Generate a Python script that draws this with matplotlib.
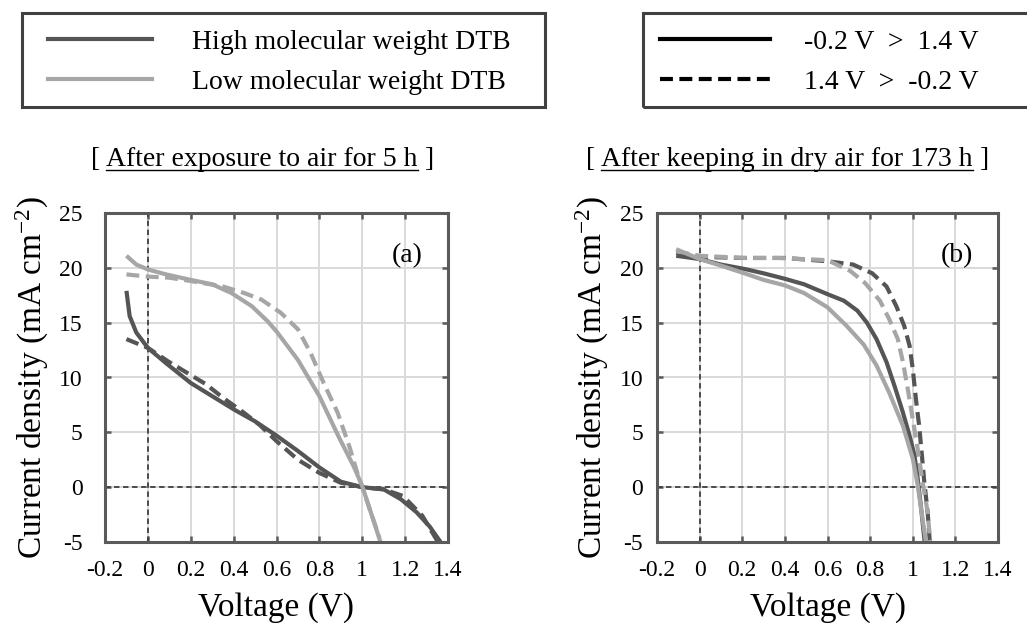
import matplotlib
matplotlib.use("Agg")
import matplotlib.pyplot as plt
from matplotlib.lines import Line2D
from matplotlib.patches import Rectangle

plt.rcParams['font.family'] = ['Liberation Serif', 'DejaVu Serif']
plt.rcParams['mathtext.default'] = 'regular'
plt.rcParams['axes.unicode_minus'] = False

# ---------------- data ----------------
# Panel (a): after exposure to air for 5 h
Va_high_fwd = [-0.1, -0.085, -0.054, 0.0, 0.085, 0.2, 0.3, 0.4, 0.5, 0.6, 0.7, 0.8, 0.9, 1.0, 1.1, 1.18, 1.254, 1.315, 1.365]
Ja_high_fwd = [17.9, 15.6, 14.1, 12.7, 11.3, 9.5, 8.3, 7.1, 6.0, 4.7, 3.3, 1.8, 0.5, 0.0, -0.2, -1.1, -2.3, -3.6, -5.0]
Va_high_rev = [-0.1, 0.0, 0.092, 0.185, 0.27, 0.354, 0.44, 0.52, 0.6, 0.7, 0.8, 0.9, 1.0, 1.1, 1.19, 1.28, 1.35]
Ja_high_rev = [13.5, 12.7, 11.5, 10.4, 9.4, 8.1, 6.9, 5.7, 4.2, 2.5, 1.3, 0.4, 0.0, -0.2, -0.8, -2.6, -4.9]
Va_low_fwd = [-0.1, -0.054, 0.0, 0.085, 0.2, 0.3, 0.39, 0.485, 0.56, 0.6, 0.7, 0.8, 0.89, 0.96, 1.0, 1.04, 1.085]
Ja_low_fwd = [21.1, 20.3, 19.85, 19.4, 18.9, 18.5, 17.7, 16.5, 15.1, 14.2, 11.6, 8.3, 4.6, 1.9, 0.1, -2.3, -5.0]
Va_low_rev = [-0.1, 0.0, 0.1, 0.2, 0.35, 0.45, 0.53, 0.62, 0.7, 0.76, 0.82, 0.885, 0.94, 0.977, 1.0, 1.04, 1.08]
Ja_low_rev = [19.4, 19.2, 19.1, 18.8, 18.3, 17.7, 17.1, 15.9, 14.4, 12.2, 9.5, 6.8, 3.7, 1.3, 0.0, -2.3, -4.6]

# Panel (b): after keeping in dry air for 173 h
Vb_high_fwd = [-0.11, 0.0, 0.1, 0.21, 0.3, 0.4, 0.49, 0.6, 0.677, 0.74, 0.785, 0.83, 0.877, 0.915, 0.954, 0.985, 1.008, 1.023, 1.038, 1.056]
Jb_high_fwd = [21.1, 20.8, 20.3, 19.9, 19.5, 19.0, 18.5, 17.6, 17.0, 16.1, 15.0, 13.5, 11.4, 9.2, 6.8, 4.7, 2.9, 0.8, -1.7, -5.0]
Vb_high_rev = [-0.11, 0.0, 0.2, 0.4, 0.6, 0.72, 0.81, 0.877, 0.923, 0.96, 0.985, 1.0, 1.015, 1.03, 1.043, 1.054, 1.07, 1.08]
Jb_high_rev = [21.4, 21.0, 20.9, 20.9, 20.6, 20.3, 19.5, 18.3, 16.5, 14.7, 12.9, 10.8, 8.0, 5.6, 2.9, 0.5, -2.3, -5.0]
Vb_low_fwd = [-0.11, 0.0, 0.1, 0.21, 0.3, 0.4, 0.49, 0.6, 0.69, 0.77, 0.83, 0.89, 0.954, 1.0, 1.023, 1.046, 1.062]
Jb_low_fwd = [21.7, 20.8, 20.2, 19.5, 18.9, 18.4, 17.7, 16.4, 14.7, 13.0, 11.1, 8.6, 5.6, 2.6, 0.2, -2.9, -5.0]
Vb_low_rev = [-0.11, 0.0, 0.21, 0.37, 0.6, 0.708, 0.777, 0.846, 0.89, 0.93, 0.954, 0.977, 1.0, 1.023, 1.046, 1.07, 1.082]
Jb_low_rev = [21.5, 21.1, 20.9, 20.9, 20.7, 19.7, 18.6, 17.0, 15.3, 13.5, 11.4, 8.9, 6.2, 3.5, 0.5, -2.3, -5.0]

x_ticks = [-0.2, 0, 0.2, 0.4, 0.6, 0.8, 1, 1.2, 1.4]
x_ticklabels = ['-0.2', '0', '0.2', '0.4', '0.6', '0.8', '1', '1.2', '1.4']
y_ticks = [-5, 0, 5, 10, 15, 20, 25]
y_ticklabels = ['-5', '0', '5', '10', '15', '20', '25']

series_labels = ['High molecular weight DTB', 'Low molecular weight DTB']
sweep_labels = ['-0.2 V  >  1.4 V', '1.4 V  >  -0.2 V']
titles = ['After exposure to air for 5 h', 'After keeping in dry air for 173 h']
panel_tags = ['(a)', '(b)']

# ---------------- style ----------------
DARK = '#555555'
LIGHT = '#a6a6a6'
FRAME = '#5a5a5a'
GRID = '#d9d9d9'
LW = 3.0
DASH = (3.1, 1.55)

W, H = 1027, 623
fig = plt.figure(figsize=(W / 100, H / 100), dpi=100)
ax_a = fig.add_axes([105 / W, 1 - 542 / H, 343 / W, 329 / H])
ax_b = fig.add_axes([657 / W, 1 - 542 / H, 341 / W, 329 / H])

panels = [
    (ax_a, (Va_high_rev, Ja_high_rev), (Va_low_rev, Ja_low_rev), (Va_high_fwd, Ja_high_fwd), (Va_low_fwd, Ja_low_fwd), 16),
    (ax_b, (Vb_high_rev, Jb_high_rev), (Vb_low_rev, Jb_low_rev), (Vb_high_fwd, Jb_high_fwd), (Vb_low_fwd, Jb_low_fwd), 10),
]

for i, (ax, hr, lr, hf, lf, ypad) in enumerate(panels):
    ax.set_xlim(-0.2, 1.4)
    ax.set_ylim(-5, 25)
    ax.set_xticks(x_ticks)
    ax.set_xticklabels(x_ticklabels)
    ax.set_yticks(y_ticks)
    ax.set_yticklabels(y_ticklabels)
    ax.grid(True, color=GRID, lw=1.4, zorder=0)
    ax.set_axisbelow(True)
    ax.axhline(0, color='#404040', lw=1.3, ls=(0, (3, 2)), zorder=1)
    ax.axvline(0, color='#404040', lw=1.3, ls=(0, (3, 2)), zorder=1)
    ax.plot(*hr, color=DARK, lw=LW, ls=(0, DASH), zorder=2)
    ax.plot(*lr, color=LIGHT, lw=LW, ls=(0, DASH), zorder=2)
    ax.plot(*hf, color=DARK, lw=LW, zorder=3, solid_capstyle='butt', solid_joinstyle='round')
    ax.plot(*lf, color=LIGHT, lw=LW, zorder=4, solid_capstyle='butt', solid_joinstyle='round')
    for s in ax.spines.values():
        s.set_color(FRAME)
        s.set_linewidth(2.2)
        s.set_zorder(5)
    ax.tick_params(direction='in', top=True, right=True, length=4, width=1.8,
                   color=FRAME, labelsize=17)
    ax.tick_params(axis='x', pad=13)
    ax.tick_params(axis='y', pad=ypad)
    ax.set_xlabel('Voltage (V)', fontsize=24, labelpad=8)
    ax.set_ylabel('Current density (mA cm$^{-2}$)', fontsize=24, labelpad=6)
    ax.text(0.88, 0.87, panel_tags[i], transform=ax.transAxes, fontsize=20,
            ha='center', va='center', zorder=6)

# ---------------- legends ----------------
fig.add_artist(Rectangle((22 / W, 1 - 107 / H), (545 - 22) / W, 94 / H,
                         transform=fig.transFigure, fill=False, ec='#404040', lw=2.2))
fig.add_artist(Rectangle((643 / W, 1 - 107 / H), (1040 - 643) / W, 94 / H,
                         transform=fig.transFigure, fill=False, ec='#404040', lw=2.2))

h1 = [Line2D([], [], color=DARK, lw=LW), Line2D([], [], color=LIGHT, lw=LW)]
leg1 = fig.legend(h1, series_labels, loc='center left', bbox_to_anchor=(48 / W, 1 - 62 / H),
                  frameon=False, fontsize=20, borderpad=0, handlelength=3.75,
                  handletextpad=1.45, labelspacing=0.52, borderaxespad=0)
h2 = [Line2D([], [], color='black', lw=LW),
      Line2D([], [], color='black', lw=LW, ls=(0, DASH))]
leg2 = fig.legend(h2, sweep_labels, loc='center left', bbox_to_anchor=(660 / W, 1 - 62 / H),
                  frameon=False, fontsize=20, borderpad=0, handlelength=3.95,
                  handletextpad=1.25, labelspacing=0.52, borderaxespad=0)

# ---------------- titles with underline ----------------
title_centers = [262, 787]
base_y = 1 - 166 / H
mids = []
for t, xc in zip(titles, title_centers):
    mids.append(fig.text(xc / W, base_y, t, fontsize=20, ha='center', va='baseline'))
fig.canvas.draw()
r = fig.canvas.get_renderer()
for m in mids:
    bb = m.get_window_extent(r)
    fig.text((bb.x0 - 6) / W, base_y, '[', fontsize=20, ha='right', va='baseline')
    fig.text((bb.x1 + 6) / W, base_y, ']', fontsize=20, ha='left', va='baseline')
    yl = base_y - 4 / H
    fig.add_artist(Line2D([bb.x0 / W, bb.x1 / W], [yl, yl], transform=fig.transFigure,
                          color='black', lw=1.0))

fig.savefig('out.png', dpi=100)
